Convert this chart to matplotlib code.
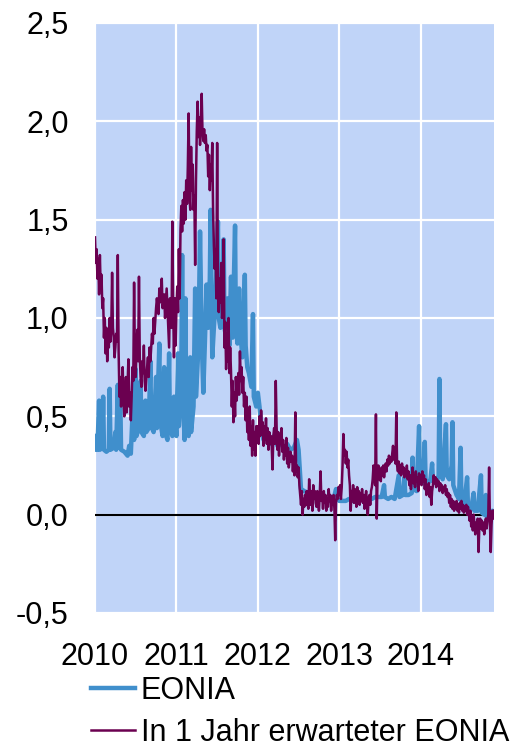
import numpy as np
import matplotlib
matplotlib.use("Agg")
import matplotlib.pyplot as plt
from matplotlib.ticker import FuncFormatter

plt.rcParams["font.family"] = ["Liberation Sans", "DejaVu Sans"]

# ===== data: (decimal year, percent) =====
eonia_2010 = [
    (2010.00, 0.40), (2010.01, 0.33), (2010.03, 0.33), (2010.05, 0.58), (2010.06, 0.33),
    (2010.09, 0.34), (2010.10, 0.60), (2010.11, 0.33), (2010.14, 0.32), (2010.17, 0.33),
    (2010.18, 0.64), (2010.19, 0.33), (2010.23, 0.34), (2010.25, 0.42), (2010.26, 0.33),
    (2010.28, 0.66), (2010.29, 0.34), (2010.31, 0.62), (2010.32, 0.33), (2010.36, 0.32),
    (2010.40, 0.30), (2010.42, 0.35), (2010.44, 0.31), (2010.47, 0.60), (2010.48, 0.38),
    (2010.50, 0.74), (2010.51, 0.40), (2010.54, 0.45), (2010.56, 0.68), (2010.57, 0.42),
    (2010.60, 0.40), (2010.62, 0.58), (2010.63, 0.42), (2010.66, 0.44), (2010.68, 0.78),
    (2010.69, 0.45), (2010.72, 0.42), (2010.75, 0.70), (2010.76, 0.44), (2010.79, 0.87),
    (2010.80, 0.48), (2010.83, 0.40), (2010.85, 0.75), (2010.86, 0.42), (2010.89, 0.38),
    (2010.91, 0.82), (2010.92, 0.45), (2010.95, 0.40), (2010.97, 0.60), (2010.99, 0.45),
]
eonia_2011 = [
    (2011.00, 0.40), (2011.02, 0.82), (2011.03, 0.45), (2011.06, 0.70), (2011.07, 1.32),
    (2011.08, 0.60), (2011.10, 0.38), (2011.11, 1.10), (2011.12, 0.55), (2011.15, 0.40),
    (2011.17, 0.80), (2011.18, 0.42), (2011.21, 0.55), (2011.23, 1.15), (2011.24, 0.60),
    (2011.27, 0.85), (2011.29, 1.44), (2011.31, 0.90), (2011.33, 0.62), (2011.35, 0.88),
    (2011.37, 1.17), (2011.39, 0.95), (2011.41, 1.20), (2011.42, 1.55), (2011.44, 0.80),
    (2011.46, 0.95), (2011.48, 1.10), (2011.51, 1.49), (2011.52, 1.00), (2011.54, 0.95),
    (2011.56, 1.03), (2011.58, 1.40), (2011.59, 0.95), (2011.61, 0.90), (2011.63, 1.10),
    (2011.65, 0.86), (2011.67, 1.21), (2011.69, 0.90), (2011.72, 1.47), (2011.73, 0.95),
    (2011.75, 0.87), (2011.77, 1.15), (2011.79, 0.90), (2011.81, 0.80), (2011.84, 1.22),
    (2011.85, 0.86), (2011.87, 0.75), (2011.89, 0.72), (2011.92, 0.65), (2011.94, 1.02),
    (2011.95, 0.60), (2011.98, 0.55),
]
eonia_2012 = [
    (2012.00, 0.62), (2012.02, 0.55), (2012.04, 0.45), (2012.07, 0.38), (2012.10, 0.42),
    (2012.13, 0.37), (2012.16, 0.36), (2012.20, 0.40), (2012.24, 0.35), (2012.28, 0.36),
    (2012.32, 0.34), (2012.36, 0.36), (2012.40, 0.33), (2012.44, 0.34), (2012.48, 0.38),
    (2012.50, 0.33), (2012.52, 0.20), (2012.53, 0.13), (2012.57, 0.12), (2012.61, 0.11),
    (2012.65, 0.11), (2012.69, 0.10), (2012.73, 0.10), (2012.77, 0.08), (2012.81, 0.08),
    (2012.85, 0.08), (2012.89, 0.07), (2012.93, 0.08), (2012.96, 0.13), (2012.98, 0.08),
]
eonia_2013 = [
    (2013.00, 0.07), (2013.04, 0.07), (2013.08, 0.07), (2013.12, 0.08), (2013.16, 0.07),
    (2013.20, 0.08), (2013.24, 0.07), (2013.28, 0.08), (2013.32, 0.08), (2013.36, 0.08),
    (2013.40, 0.08), (2013.44, 0.09), (2013.48, 0.09), (2013.52, 0.09), (2013.55, 0.15),
    (2013.56, 0.09), (2013.60, 0.08), (2013.64, 0.09), (2013.68, 0.08), (2013.73, 0.20),
    (2013.74, 0.09), (2013.78, 0.10), (2013.80, 0.19), (2013.81, 0.10), (2013.85, 0.10),
    (2013.89, 0.11), (2013.90, 0.29), (2013.91, 0.13), (2013.95, 0.12), (2013.98, 0.45),
    (2013.99, 0.20),
]
eonia_2014 = [
    (2014.01, 0.18), (2014.03, 0.16), (2014.05, 0.37), (2014.06, 0.17), (2014.09, 0.16),
    (2014.12, 0.18), (2014.14, 0.26), (2014.15, 0.17), (2014.19, 0.16), (2014.22, 0.20),
    (2014.23, 0.69), (2014.24, 0.22), (2014.27, 0.18), (2014.31, 0.46), (2014.32, 0.20),
    (2014.35, 0.18), (2014.38, 0.25), (2014.39, 0.47), (2014.40, 0.15), (2014.44, 0.10),
    (2014.47, 0.08), (2014.49, 0.34), (2014.50, 0.06), (2014.53, 0.04), (2014.57, 0.19),
    (2014.58, 0.04), (2014.62, 0.03), (2014.65, 0.11), (2014.66, 0.02), (2014.70, 0.02),
    (2014.74, 0.20), (2014.75, 0.01), (2014.78, 0.00), (2014.80, 0.10), (2014.81, -0.01),
    (2014.85, 0.00), (2014.88, 0.02), (2014.90, 0.01),
]

fwd_2010 = [
    (2010.00, 1.41), (2010.01, 1.28), (2010.02, 1.35), (2010.03, 1.20), (2010.04, 1.30),
    (2010.05, 1.12), (2010.06, 1.32), (2010.07, 1.15), (2010.08, 1.22), (2010.09, 1.05),
    (2010.10, 1.10), (2010.11, 0.90), (2010.12, 1.00), (2010.13, 0.82), (2010.14, 0.95),
    (2010.15, 0.78), (2010.16, 0.90), (2010.17, 0.85), (2010.18, 1.00), (2010.19, 0.88),
    (2010.20, 0.95), (2010.21, 1.23), (2010.22, 0.95), (2010.23, 0.90), (2010.24, 0.80),
    (2010.25, 0.85), (2010.26, 0.92), (2010.27, 0.88), (2010.28, 1.32), (2010.29, 0.83),
    (2010.30, 0.60), (2010.31, 0.70), (2010.32, 0.55), (2010.33, 0.65), (2010.34, 0.75),
    (2010.35, 0.58), (2010.36, 0.50), (2010.37, 0.62), (2010.38, 0.70), (2010.39, 0.52),
    (2010.40, 0.65), (2010.41, 0.79), (2010.42, 0.55), (2010.43, 0.62), (2010.44, 0.48),
    (2010.45, 0.60), (2010.46, 0.75), (2010.47, 0.68), (2010.48, 1.18), (2010.49, 0.80),
    (2010.50, 0.70), (2010.51, 0.85), (2010.52, 0.94), (2010.53, 0.78), (2010.54, 1.21),
    (2010.55, 0.80), (2010.56, 0.70), (2010.57, 0.65), (2010.58, 0.78), (2010.59, 0.72),
    (2010.60, 0.86), (2010.61, 0.68), (2010.62, 0.63), (2010.64, 0.75), (2010.65, 0.80),
    (2010.66, 0.70), (2010.67, 0.85), (2010.68, 0.78), (2010.70, 0.92), (2010.71, 0.87),
    (2010.72, 1.00), (2010.73, 0.92), (2010.75, 1.05), (2010.76, 1.10), (2010.78, 1.02),
    (2010.79, 1.15), (2010.80, 1.08), (2010.82, 1.20), (2010.83, 1.05), (2010.85, 1.12),
    (2010.86, 1.00), (2010.88, 1.15), (2010.89, 1.05), (2010.91, 0.85), (2010.92, 1.10),
    (2010.94, 0.95), (2010.95, 1.49), (2010.96, 1.05), (2010.97, 0.80), (2010.98, 1.10),
    (2010.99, 0.86),
]
fwd_2011 = [
    (2011.00, 1.05), (2011.01, 1.16), (2011.02, 1.03), (2011.03, 1.35), (2011.04, 1.10),
    (2011.05, 1.45), (2011.06, 1.57), (2011.07, 1.44), (2011.08, 1.60), (2011.09, 1.48),
    (2011.10, 1.64), (2011.11, 1.50), (2011.12, 1.70), (2011.13, 1.58), (2011.14, 1.77),
    (2011.15, 2.04), (2011.16, 1.62), (2011.17, 1.55), (2011.18, 1.87), (2011.19, 1.65),
    (2011.20, 1.78), (2011.21, 1.55), (2011.22, 1.62), (2011.23, 1.27), (2011.24, 1.70),
    (2011.25, 1.95), (2011.26, 2.10), (2011.27, 1.92), (2011.28, 2.02), (2011.29, 1.88),
    (2011.30, 2.00), (2011.31, 2.14), (2011.32, 1.95), (2011.33, 1.90), (2011.34, 1.96),
    (2011.35, 1.89), (2011.36, 1.93), (2011.37, 1.85), (2011.38, 1.88), (2011.39, 1.72),
    (2011.40, 1.83), (2011.41, 1.65), (2011.42, 1.78), (2011.43, 1.70), (2011.44, 1.89),
    (2011.45, 1.55), (2011.46, 1.37), (2011.47, 1.25), (2011.48, 1.35), (2011.49, 1.10),
    (2011.50, 1.89), (2011.51, 1.15), (2011.52, 1.03), (2011.53, 1.20), (2011.54, 1.08),
    (2011.55, 1.28), (2011.56, 1.00), (2011.57, 1.05), (2011.58, 1.40), (2011.59, 0.85),
    (2011.60, 0.98), (2011.61, 0.74), (2011.62, 0.92), (2011.63, 0.78), (2011.64, 1.00),
    (2011.65, 0.72), (2011.66, 0.85), (2011.67, 0.73), (2011.68, 0.55), (2011.69, 0.68),
    (2011.70, 0.47), (2011.71, 0.62), (2011.72, 0.50), (2011.73, 0.70), (2011.74, 0.58),
    (2011.75, 0.66), (2011.76, 0.72), (2011.77, 0.61), (2011.78, 0.83), (2011.79, 0.68),
    (2011.80, 0.75), (2011.81, 0.62), (2011.82, 0.70), (2011.83, 0.55), (2011.84, 0.62),
    (2011.85, 0.48), (2011.86, 0.60), (2011.87, 0.42), (2011.88, 0.52), (2011.89, 0.38),
    (2011.90, 0.55), (2011.91, 0.35), (2011.92, 0.45), (2011.93, 0.30), (2011.94, 0.48),
    (2011.95, 0.33), (2011.96, 0.42), (2011.97, 0.30), (2011.98, 0.45), (2011.99, 0.38),
]
fwd_2012 = [
    (2012.00, 0.45), (2012.01, 0.36), (2012.02, 0.50), (2012.03, 0.40), (2012.04, 0.53),
    (2012.05, 0.42), (2012.06, 0.47), (2012.07, 0.35), (2012.08, 0.45), (2012.09, 0.38),
    (2012.10, 0.49), (2012.11, 0.36), (2012.12, 0.44), (2012.13, 0.33), (2012.14, 0.42),
    (2012.15, 0.36), (2012.16, 0.40), (2012.17, 0.35), (2012.18, 0.23), (2012.19, 0.40),
    (2012.20, 0.44), (2012.21, 0.36), (2012.22, 0.68), (2012.23, 0.45), (2012.24, 0.33),
    (2012.25, 0.42), (2012.26, 0.30), (2012.27, 0.40), (2012.28, 0.36), (2012.29, 0.44),
    (2012.30, 0.32), (2012.31, 0.38), (2012.32, 0.28), (2012.33, 0.35), (2012.34, 0.30),
    (2012.35, 0.39), (2012.36, 0.26), (2012.37, 0.34), (2012.38, 0.24), (2012.40, 0.32),
    (2012.41, 0.27), (2012.42, 0.30), (2012.43, 0.22), (2012.44, 0.28), (2012.45, 0.20),
    (2012.46, 0.52), (2012.47, 0.22), (2012.48, 0.25), (2012.49, 0.19), (2012.50, 0.24),
    (2012.51, 0.15), (2012.52, 0.10), (2012.53, 0.05), (2012.54, 0.12), (2012.55, 0.00),
    (2012.56, 0.08), (2012.57, 0.04), (2012.58, 0.10), (2012.59, 0.05), (2012.60, 0.12),
    (2012.61, 0.06), (2012.62, 0.03), (2012.63, 0.18), (2012.64, 0.08), (2012.65, 0.05),
    (2012.66, 0.12), (2012.67, 0.02), (2012.68, 0.15), (2012.69, 0.08), (2012.70, 0.12),
    (2012.71, 0.06), (2012.72, 0.04), (2012.73, 0.12), (2012.74, 0.08), (2012.75, 0.02),
    (2012.76, 0.10), (2012.77, 0.22), (2012.78, 0.07), (2012.79, 0.10), (2012.80, 0.03),
    (2012.81, 0.12), (2012.82, 0.06), (2012.83, 0.10), (2012.84, 0.02), (2012.85, 0.08),
    (2012.86, 0.04), (2012.87, 0.13), (2012.88, 0.07), (2012.89, 0.10), (2012.90, 0.02),
    (2012.91, 0.08), (2012.92, 0.05), (2012.93, 0.10), (2012.94, 0.03), (2012.95, -0.13),
    (2012.96, 0.06), (2012.97, 0.10), (2012.98, 0.08), (2012.99, 0.14),
]
fwd_2013 = [
    (2013.00, 0.10), (2013.01, 0.15), (2013.02, 0.08), (2013.03, 0.14), (2013.04, 0.25),
    (2013.05, 0.41), (2013.06, 0.30), (2013.07, 0.33), (2013.08, 0.26), (2013.09, 0.32),
    (2013.10, 0.24), (2013.11, 0.28), (2013.12, 0.20), (2013.13, 0.15), (2013.14, 0.02),
    (2013.15, 0.12), (2013.16, 0.08), (2013.17, 0.15), (2013.18, 0.06), (2013.19, 0.13),
    (2013.20, 0.10), (2013.21, 0.04), (2013.22, 0.14), (2013.23, 0.09), (2013.24, 0.12),
    (2013.25, 0.05), (2013.26, 0.11), (2013.27, 0.07), (2013.28, 0.13), (2013.29, 0.06),
    (2013.30, 0.10), (2013.31, 0.03), (2013.32, 0.09), (2013.33, 0.12), (2013.34, 0.06),
    (2013.35, 0.00), (2013.36, 0.08), (2013.37, 0.10), (2013.38, 0.05), (2013.39, 0.12),
    (2013.40, 0.14), (2013.41, 0.18), (2013.42, 0.25), (2013.43, 0.20), (2013.44, 0.15),
    (2013.45, 0.51), (2013.46, -0.02), (2013.47, 0.20), (2013.48, 0.25), (2013.49, 0.18),
    (2013.50, 0.22), (2013.51, 0.17), (2013.52, 0.24), (2013.53, 0.20), (2013.54, 0.25),
    (2013.55, 0.19), (2013.56, 0.23), (2013.57, 0.26), (2013.58, 0.22), (2013.59, 0.28),
    (2013.60, 0.25), (2013.61, 0.30), (2013.62, 0.26), (2013.63, 0.29), (2013.64, 0.27),
    (2013.65, 0.31), (2013.66, 0.35), (2013.67, 0.28), (2013.68, 0.30), (2013.69, 0.26),
    (2013.70, 0.52), (2013.71, 0.25), (2013.72, 0.22), (2013.73, 0.27), (2013.74, 0.21),
    (2013.75, 0.25), (2013.76, 0.20), (2013.77, 0.26), (2013.78, 0.22), (2013.79, 0.24),
    (2013.80, 0.19), (2013.81, 0.23), (2013.82, 0.20), (2013.83, 0.25), (2013.84, 0.18),
    (2013.85, 0.22), (2013.86, 0.15), (2013.87, 0.20), (2013.88, 0.13), (2013.89, 0.18),
    (2013.90, 0.24), (2013.91, 0.16), (2013.92, 0.20), (2013.93, 0.14), (2013.94, 0.22),
    (2013.95, 0.17), (2013.96, 0.19), (2013.97, 0.12), (2013.98, 0.21), (2013.99, 0.16),
]
fwd_2014 = [
    (2014.00, 0.20), (2014.01, 0.15), (2014.02, 0.22), (2014.03, 0.17), (2014.04, 0.20),
    (2014.05, 0.13), (2014.06, 0.18), (2014.07, 0.10), (2014.08, 0.15), (2014.09, 0.12),
    (2014.10, 0.16), (2014.11, 0.09), (2014.12, 0.14), (2014.13, 0.05), (2014.14, 0.12),
    (2014.15, 0.15), (2014.16, 0.20), (2014.17, 0.16), (2014.18, 0.19), (2014.19, 0.14),
    (2014.20, 0.18), (2014.21, 0.15), (2014.22, 0.17), (2014.23, 0.12), (2014.24, 0.16),
    (2014.25, 0.13), (2014.26, 0.15), (2014.27, 0.11), (2014.28, 0.14), (2014.29, 0.12),
    (2014.30, 0.15), (2014.31, 0.10), (2014.32, 0.13), (2014.33, 0.09), (2014.34, 0.11),
    (2014.35, 0.06), (2014.36, 0.10), (2014.37, 0.04), (2014.38, 0.08), (2014.39, 0.03),
    (2014.40, 0.07), (2014.41, 0.02), (2014.42, 0.06), (2014.43, 0.03), (2014.44, 0.07),
    (2014.45, 0.02), (2014.46, 0.05), (2014.47, 0.01), (2014.48, 0.06), (2014.49, 0.03),
    (2014.50, 0.07), (2014.51, 0.02), (2014.52, 0.05), (2014.53, 0.01), (2014.54, 0.04),
    (2014.55, 0.02), (2014.56, 0.05), (2014.57, 0.00), (2014.58, 0.04), (2014.59, 0.01),
    (2014.60, -0.03), (2014.61, 0.02), (2014.62, -0.06), (2014.63, -0.02), (2014.64, -0.08),
    (2014.65, 0.00), (2014.66, -0.05), (2014.67, -0.10), (2014.68, -0.04), (2014.69, -0.08),
    (2014.70, -0.02), (2014.71, -0.19), (2014.72, -0.06), (2014.73, -0.02), (2014.74, -0.07),
    (2014.75, -0.03), (2014.76, -0.08), (2014.77, -0.04), (2014.78, -0.10), (2014.79, -0.05),
    (2014.80, -0.02), (2014.81, -0.07), (2014.82, -0.03), (2014.83, 0.00), (2014.84, 0.24),
    (2014.85, -0.04), (2014.86, -0.19), (2014.87, -0.05), (2014.88, 0.02), (2014.89, -0.02),
    (2014.90, 0.02),
]

year_ticks = [2010, 2011, 2012, 2013, 2014]
y_ticks = [-0.5, 0.0, 0.5, 1.0, 1.5, 2.0, 2.5]

eonia = eonia_2010 + eonia_2011 + eonia_2012 + eonia_2013 + eonia_2014
fwd = fwd_2010 + fwd_2011 + fwd_2012 + fwd_2013 + fwd_2014
eonia_t, eonia_v = zip(*eonia)
fwd_t, fwd_v = zip(*fwd)

# ===== plot =====
fig = plt.figure(figsize=(5.19, 7.48), dpi=100)
ax = fig.add_axes([95 / 519, 1 - 613 / 748, 399 / 519, 590 / 748])
ax.set_facecolor("#C0D4F8")

ax.plot(eonia_t, eonia_v, color="#408FCC", lw=3.2, solid_joinstyle="round",
        label="EONIA", zorder=3)
ax.plot(fwd_t, fwd_v, color="#6B0050", lw=1.8, label="In 1 Jahr erwarteter EONIA", zorder=4)
ax.axhline(0, color="black", lw=1.5, zorder=2)

ax.set_xlim(2010.0, 2014.9)
ax.set_ylim(-0.5, 2.5)
ax.set_xticks(year_ticks)
ax.set_yticks(y_ticks)
ax.yaxis.set_major_formatter(FuncFormatter(lambda v, p: f"{v:.1f}".replace(".", ",")))
ax.grid(True, color="white", lw=1.6, zorder=1)
ax.set_axisbelow(True)
for s in ax.spines.values():
    s.set_visible(False)
ax.tick_params(axis="both", length=0, labelsize=22, colors="black")
ax.tick_params(axis="y", pad=19)
ax.tick_params(axis="x", pad=21)

fig.legend(loc="upper left", bbox_to_anchor=(91 / 519, 1 - 676 / 748), frameon=False,
           fontsize=22, handlelength=1.45, handletextpad=0.18, labelspacing=0.38,
           borderpad=0, borderaxespad=0)

fig.savefig("out.png", dpi=100)
